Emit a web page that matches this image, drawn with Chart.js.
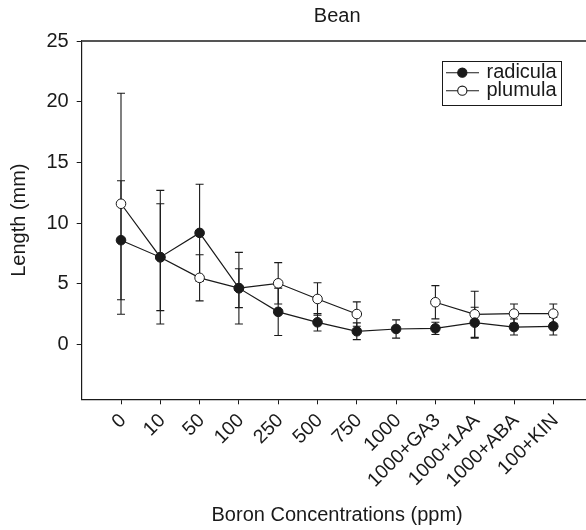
<!DOCTYPE html>
<html>
<head>
<meta charset="utf-8">
<script src="https://cdn.jsdelivr.net/npm/chart.js@4.4.1/dist/chart.umd.min.js"></script>
<style>
  html, body { margin: 0; padding: 0; background: #fff; overflow: hidden; }
  canvas { display: block; }
</style>
</head>
<body>
<canvas id="chart" width="600" height="530"></canvas>
<script>
// Boron treatments on the x axis
const categories = ['0', '10', '50', '100', '250', '500', '750', '1000',
  '1000+GA3', '1000+1AA', '1000+ABA', '100+KIN'];

// Mean lengths (mm) and their error bars
const radicula   = [8.6, 7.2, 9.2, 4.65, 2.7, 1.84, 1.1, 1.29, 1.34, 1.81, 1.45, 1.51];
const radiculaSE = [4.9, 4.4, 4.0, 1.6, 1.95, 0.72, 0.69, 0.75, 0.5, 1.27, 0.66, 0.72];
const plumula    = [11.6, 7.2, 5.5, 4.65, 5.05, 3.76, 2.52, null, 3.49, 2.5, 2.55, 2.55];
const plumulaSE  = [9.1, 5.5, 1.9, 2.95, 1.7, 1.33, 1.0, null, 1.37, 1.9, 0.8, 0.8];

const yTicks = [0, 5, 10, 15, 20, 25];

const FONT = "'Liberation Sans', Arial, Helvetica, sans-serif";
const INK = '#1a1a1a';

const toPoints = vals => vals.map((v, i) => ({ x: i, y: v }));

// Vertical error bars with short caps, drawn under the markers
const errorBars = {
  id: 'errorBars',
  beforeDatasetsDraw(chart) {
    const { ctx, scales: { x, y } } = chart;
    ctx.save();
    ctx.strokeStyle = INK;
    ctx.lineWidth = 1.1;
    chart.data.datasets.forEach(ds => {
      ds.data.forEach((p, i) => {
        const e = ds.errors[i];
        if (p.y == null || e == null) return;
        const px = x.getPixelForValue(p.x);
        const top = y.getPixelForValue(p.y + e);
        const bot = y.getPixelForValue(p.y - e);
        ctx.beginPath();
        ctx.moveTo(px, top); ctx.lineTo(px, bot);
        ctx.moveTo(px - 4, top); ctx.lineTo(px + 4, top);
        ctx.moveTo(px - 4, bot); ctx.lineTo(px + 4, bot);
        ctx.stroke();
      });
    });
    ctx.restore();
  }
};

// Top frame line and boxed legend
const frameAndLegend = {
  id: 'frameAndLegend',
  afterDraw(chart) {
    const { ctx, chartArea } = chart;
    ctx.save();
    ctx.strokeStyle = '#555';
    ctx.lineWidth = 2;
    ctx.beginPath();
    ctx.moveTo(chartArea.left, chartArea.top);
    ctx.lineTo(chartArea.right, chartArea.top);
    ctx.stroke();

    const bx = 442.5, by = 61.5, bw = 119, bh = 44;
    ctx.fillStyle = '#fff';
    ctx.fillRect(bx, by, bw, bh);
    ctx.strokeStyle = INK;
    ctx.lineWidth = 1;
    ctx.strokeRect(bx, by, bw, bh);

    ctx.font = '20px ' + FONT;
    ctx.textBaseline = 'middle';
    ctx.textAlign = 'left';
    chart.data.datasets.forEach((ds, i) => {
      const cy = 72.7 + i * 18;
      ctx.strokeStyle = INK;
      ctx.lineWidth = 1.1;
      ctx.beginPath();
      ctx.moveTo(446, cy); ctx.lineTo(479, cy);
      ctx.stroke();
      ctx.beginPath();
      ctx.arc(462.3, cy, 4.6, 0, Math.PI * 2);
      ctx.fillStyle = ds.pointBackgroundColor;
      ctx.fill();
      ctx.stroke();
      ctx.fillStyle = INK;
      ctx.fillText(ds.label, 486.5, cy);
    });
    ctx.restore();
  }
};

const seriesStyle = fill => ({
  borderColor: INK,
  borderWidth: 1.2,
  pointRadius: 4.8,
  pointBorderWidth: 1,
  pointBorderColor: INK,
  pointBackgroundColor: fill,
  tension: 0,
  spanGaps: false,
  fill: false
});

new Chart(document.getElementById('chart'), {
  type: 'line',
  data: {
    datasets: [
      Object.assign({ label: 'radicula', data: toPoints(radicula), errors: radiculaSE }, seriesStyle(INK)),
      Object.assign({ label: 'plumula', data: toPoints(plumula), errors: plumulaSE }, seriesStyle('#fff'))
    ]
  },
  options: {
    responsive: false,
    devicePixelRatio: 1,
    animation: false,
    events: [],
    layout: { padding: { top: 0, right: 7.4, bottom: 0, left: 0 } },
    plugins: {
      legend: { display: false },
      tooltip: { enabled: false },
      title: {
        display: true,
        text: 'Bean',
        fullSize: false,
        color: INK,
        font: { family: FONT, size: 20, weight: 'normal' },
        padding: { top: 4.5, bottom: 12.5 }
      }
    },
    scales: {
      x: {
        type: 'linear',
        min: -1,
        max: 12,
        afterBuildTicks: s => { s.ticks = categories.map((c, i) => ({ value: i })); },
        afterFit: s => { s.height = 130.7; },
        grid: { display: true, drawOnChartArea: false, drawTicks: true, tickLength: 5, color: INK },
        border: { display: true, color: INK, width: 1.2 },
        ticks: {
          autoSkip: false,
          minRotation: 45,
          maxRotation: 45,
          padding: 5,
          labelOffset: 2,
          color: INK,
          font: { family: FONT, size: 19.5 },
          callback: v => categories[v]
        },
        title: {
          display: true,
          text: 'Boron Concentrations (ppm)',
          color: INK,
          font: { family: FONT, size: 20 },
          padding: { top: 0, bottom: 3 }
        }
      },
      y: {
        min: -4.5,
        max: 25,
        afterBuildTicks: s => { s.ticks = yTicks.map(v => ({ value: v })); },
        afterFit: s => { s.width = 81.7; },
        grid: { display: true, drawOnChartArea: false, drawTicks: true, tickLength: 5, color: INK },
        border: { display: true, color: INK, width: 1.2 },
        ticks: {
          padding: 8,
          color: INK,
          font: { family: FONT, size: 20 }
        },
        title: {
          display: true,
          text: 'Length (mm)',
          color: INK,
          font: { family: FONT, size: 20 },
          padding: { top: 7.5, bottom: 0 }
        }
      }
    }
  },
  plugins: [errorBars, frameAndLegend]
});
</script>
</body>
</html>
